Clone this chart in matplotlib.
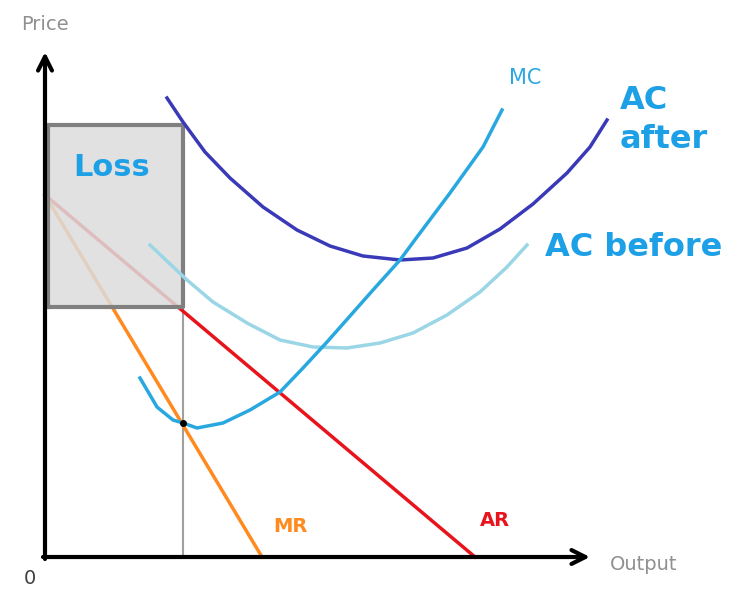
import matplotlib.pyplot as plt
import numpy as np

# curve data (output, price) with origin at the axes corner
mc_x = [95, 112, 128, 138, 152, 178, 205, 235, 258, 282, 305, 328, 355, 372, 405, 438, 457]
mc_y = [179, 150, 137, 134, 129, 134, 147, 165, 189, 215, 241, 267, 297, 320, 364, 410, 447]

ac_after_x = [122, 138, 160, 185, 218, 252, 285, 318, 355, 388, 422, 455, 488, 522, 545, 562]
ac_after_y = [459, 435, 405, 379, 350, 327, 311, 301, 297, 299, 309, 328, 353, 384, 410, 437]

ac_before_x = [105, 142, 168, 202, 235, 268, 302, 335, 368, 402, 435, 462, 482]
ac_before_y = [312, 277, 255, 234, 217, 210, 209, 214, 224, 242, 265, 290, 312]

ar_x = [0, 430]
ar_y = [362, 0]
mr_x = [0, 217]
mr_y = [362, 0]

q_star = 138
loss_top = 432
loss_bottom = 250
eq_price = 134

fig = plt.figure(figsize=(7.44, 5.92), dpi=100)
ax = fig.add_axes([0, 0, 1, 1])
ax.set_xlim(-45, 699)
ax.set_ylim(-35, 557)
ax.axis('off')

# revenue curves
ax.plot(ar_x, ar_y, color='#e8141c', lw=2.5, zorder=2)
ax.plot(mr_x, mr_y, color='#ff8a1f', lw=2.5, zorder=2)

# loss rectangle, drawn over AR / MR so they look faded inside
ax.fill_between([3, q_star], loss_bottom, loss_top, color='#dcdcdc', alpha=0.85, zorder=3)
ax.plot([3, q_star, q_star, 3, 3], [loss_bottom, loss_bottom, loss_top, loss_top, loss_bottom],
        color='#808080', lw=3, zorder=4)
ax.plot([q_star, q_star], [0, loss_bottom], color='#a0a0a0', lw=1.5, zorder=1)

# cost curves
ax.plot(ac_before_x, ac_before_y, color='#9ad6e6', lw=2.5, zorder=5, solid_joinstyle='round')
ax.plot(ac_after_x, ac_after_y, color='#3a3ab8', lw=2.5, zorder=5, solid_joinstyle='round')
ax.plot(mc_x, mc_y, color='#29a8e0', lw=2.5, zorder=5, solid_joinstyle='round')
ax.plot([q_star], [eq_price], 'o', color='black', ms=4, zorder=6)

# axes with open arrow heads
arrow = dict(arrowstyle='->', lw=3, color='black', mutation_scale=25, shrinkA=0, shrinkB=0)
ax.annotate('', xy=(0, 505), xytext=(0, -2), arrowprops=arrow, zorder=7)
ax.annotate('', xy=(545, 0), xytext=(-2, 0), arrowprops=arrow, zorder=7)

ax.text(0, 532, 'Price', color='#909090', fontsize=14, ha='center', va='center')
ax.text(565, -8, 'Output', color='#909090', fontsize=14, ha='left', va='center')
ax.text(-15, -22, '0', color='#404040', fontsize=14, ha='center', va='center')

ax.text(67, 389, 'Loss', color='#1ea0e6', fontsize=22, fontweight='bold', ha='center', va='center', zorder=8)
ax.text(480, 479, 'MC', color='#29a8e0', fontsize=15, ha='center', va='center')
ax.text(575, 437, 'AC\nafter', color='#1ea0e6', fontsize=23, fontweight='bold',
        ha='left', va='center', linespacing=1.3)
ax.text(500, 309, 'AC before', color='#1ea0e6', fontsize=23, fontweight='bold', ha='left', va='center')
ax.text(245, 30, 'MR', color='#ff8a1f', fontsize=14, fontweight='bold', ha='center', va='center')
ax.text(450, 36, 'AR', color='#e8141c', fontsize=14, fontweight='bold', ha='center', va='center')

fig.savefig('out.png', dpi=100)
